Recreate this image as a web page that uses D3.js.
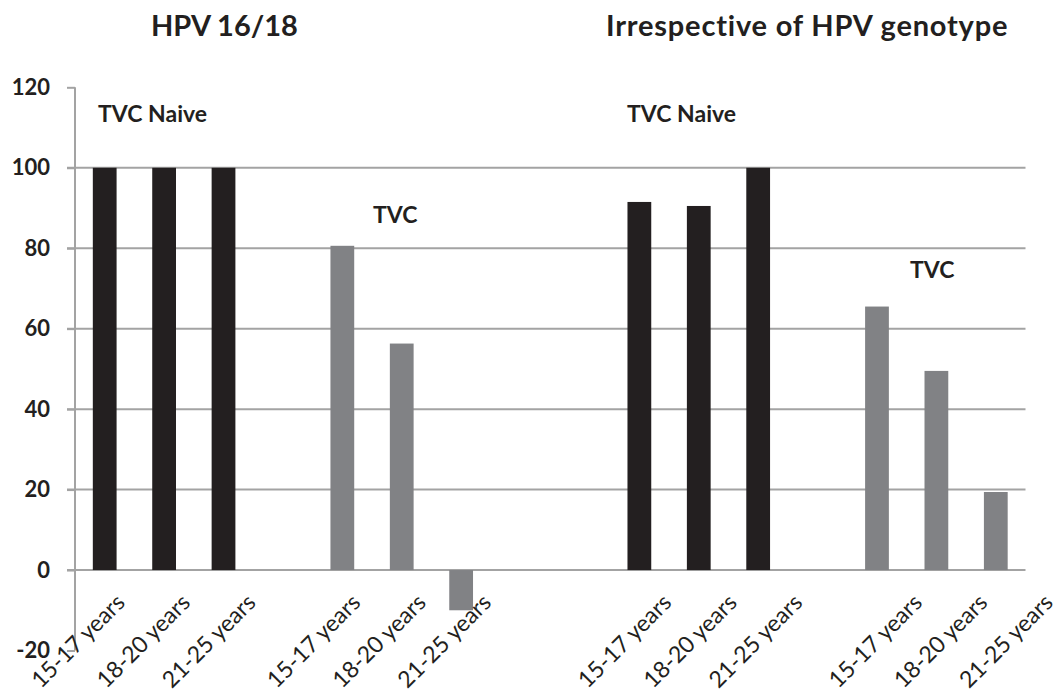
<!DOCTYPE html>
<html>
<head>
<meta charset="utf-8">
<script src="https://cdn.jsdelivr.net/npm/d3@7"></script>
<style>
  html, body { margin: 0; padding: 0; background: #fff; }
  svg { display: block; }
  text { font-family: Lato, "Open Sans", sans-serif; fill: #231f20; }
</style>
</head>
<body>
<svg id="chart" width="1058" height="693"></svg>
<script>
// ---- data ----
const ageGroups = ["15-17 years", "18-20 years", "21-25 years"];
const hpv1618Naive = [100, 100, 100];
const hpv1618TVC = [80.6, 56.3, -10];
const anyNaive = [91.5, 90.5, 100];
const anyTVC = [65.5, 49.5, 19.4];
const yTicks = [-20, 0, 20, 40, 60, 80, 100, 120];
const gridValues = [0, 20, 40, 60, 80, 100];
const panelTitles = ["HPV 16/18", "Irrespective of HPV genotype"];

// layout: slot of each bar group on the category axis, and label shift
const seriesList = [
  { values: hpv1618Naive, kind: "naive", start: 0, labelDx: 21.5 },
  { values: hpv1618TVC, kind: "tvc", start: 4, labelDx: 19.5 },
  { values: anyNaive, kind: "naive", start: 9, labelDx: 33.5 },
  { values: anyTVC, kind: "tvc", start: 13, labelDx: 46.5 }
];
const nSlots = 16;
const labelStep = 6;

const bars = [];
seriesList.forEach(s => s.values.forEach((v, i) => {
  bars.push({ slot: s.start + i, value: v, kind: s.kind, label: ageGroups[i],
              ldx: s.labelDx + labelStep * i });
}));

const colors = { naive: "#231f20", tvc: "#818285" };

const svg = d3.select("#chart");
const x = d3.scaleBand().domain(d3.range(nSlots)).range([75, 1025.5])
  .paddingInner(0.6).paddingOuter(0.3);
const y = d3.scaleLinear().domain([-20, 120]).range([650.5, 87.3]);

// gridlines
svg.append("g").selectAll("line").data(gridValues).join("line")
  .attr("x1", 67).attr("x2", 1025.5)
  .attr("y1", d => y(d)).attr("y2", d => y(d))
  .attr("stroke", "#a3a3a3").attr("stroke-width", 2);

// y axis
const yAxis = d3.axisLeft(y).tickValues(yTicks).tickSize(8).tickPadding(17)
  .tickFormat(d => String(d));
const gy = svg.append("g").attr("transform", "translate(75,0)").call(yAxis);
gy.select(".domain").attr("stroke", "#a3a3a3").attr("stroke-width", 2)
  .attr("d", `M0,${y(120)}V${y(-20)}`);
gy.selectAll(".tick line").attr("stroke", "#a3a3a3").attr("stroke-width", 2);
gy.selectAll(".tick text").attr("font-family", "Lato").attr("font-weight", "bold")
  .attr("font-size", 22).attr("fill", "#231f20");

// bars
svg.append("g").selectAll("rect").data(bars).join("rect")
  .attr("x", d => x(d.slot))
  .attr("width", x.bandwidth())
  .attr("y", d => y(Math.max(0, d.value)))
  .attr("height", d => Math.abs(y(d.value) - y(0)))
  .attr("fill", d => colors[d.kind]);

// x labels
svg.append("g").selectAll("text").data(bars).join("text")
  .attr("transform", d => `translate(${x(d.slot) + x.bandwidth() / 2 + d.ldx},${y(0) + 34}) rotate(-45)`)
  .attr("text-anchor", "end")
  .attr("font-size", 23)
  .text(d => d.label);

// titles
svg.append("text").attr("x", 151).attr("y", 36).attr("font-size", 29)
  .attr("font-weight", "bold").text(panelTitles[0]);
svg.append("text").attr("x", 606).attr("y", 36).attr("font-size", 29)
  .attr("font-weight", "bold").attr("letter-spacing", 0.8).text(panelTitles[1]);

// annotations
const notes = [
  { t: "TVC Naive", x: 98, y: 122 },
  { t: "TVC Naive", x: 627, y: 122 },
  { t: "TVC", x: 373, y: 223 },
  { t: "TVC", x: 910, y: 278 }
];
svg.append("g").selectAll("text").data(notes).join("text")
  .attr("x", d => d.x).attr("y", d => d.y)
  .attr("font-size", 23).attr("font-weight", "bold")
  .text(d => d.t);
</script>
</body>
</html>
